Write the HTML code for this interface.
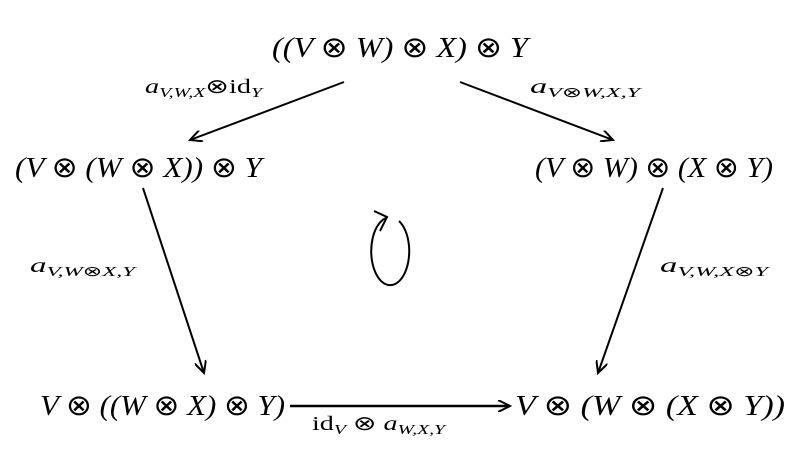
<!DOCTYPE html>
<html><head><meta charset="utf-8"><style>
html,body{margin:0;padding:0;background:#fff;}
svg{display:block;}
text{font-family:"Liberation Serif",serif;fill:#000;}
.n{font-size:29px;font-style:italic;}
.l{font-size:20px;font-style:italic;}
.s{font-size:14px;}
.r{font-style:normal;}
</style></head><body>
<svg width="800" height="460" viewBox="0 0 800 460" xmlns="http://www.w3.org/2000/svg">
<defs>
<marker id="ah" markerWidth="14" markerHeight="12" refX="12" refY="6" orient="auto" markerUnits="userSpaceOnUse">
<path d="M0,0 L12,6 L0,12" fill="none" stroke="#000" stroke-width="2"/>
</marker>
</defs>
<text class="n" x="272" y="57" textLength="256" lengthAdjust="spacingAndGlyphs">((V <tspan class="r">⊗</tspan> W) <tspan class="r">⊗</tspan> X) <tspan class="r">⊗</tspan> Y</text>
<text class="n" x="15" y="177" textLength="247" lengthAdjust="spacingAndGlyphs">(V <tspan class="r">⊗</tspan> (W <tspan class="r">⊗</tspan> X)) <tspan class="r">⊗</tspan> Y</text>
<text class="n" x="535" y="177" textLength="238" lengthAdjust="spacingAndGlyphs">(V <tspan class="r">⊗</tspan> W) <tspan class="r">⊗</tspan> (X <tspan class="r">⊗</tspan> Y)</text>
<text class="n" x="40" y="415" textLength="245" lengthAdjust="spacingAndGlyphs">V <tspan class="r">⊗</tspan> ((W <tspan class="r">⊗</tspan> X) <tspan class="r">⊗</tspan> Y)</text>
<text class="n" x="515" y="415" textLength="270" lengthAdjust="spacingAndGlyphs">V <tspan class="r">⊗</tspan> (W <tspan class="r">⊗</tspan> (X <tspan class="r">⊗</tspan> Y))</text>

<g stroke="#000" stroke-width="2" fill="none">
<line x1="344" y1="82" x2="190" y2="140" marker-end="url(#ah)"/>
<line x1="460" y1="82" x2="613" y2="140" marker-end="url(#ah)"/>
<line x1="143" y1="188" x2="204" y2="373" marker-end="url(#ah)"/>
<line x1="663" y1="188" x2="598" y2="373" marker-end="url(#ah)"/>
<line x1="290" y1="406" x2="510" y2="406" stroke-width="2.5" marker-end="url(#ah)"/>
<path d="M386,218 A19,34 0 1 0 399,221" stroke-width="2"/>
<path d="M374,211 L387,217 L380,231" stroke-width="2"/>
</g>

<text class="l" x="145" y="93" textLength="117" lengthAdjust="spacingAndGlyphs">a<tspan class="s" dy="4">V,W,X</tspan><tspan class="r" dy="-4">⊗id</tspan><tspan class="s" dy="4">Y</tspan></text>
<text class="l" x="530" y="93" textLength="110" lengthAdjust="spacingAndGlyphs">a<tspan class="s" dy="4">V<tspan class="r">⊗</tspan>W,X,Y</tspan></text>
<text class="l" x="30" y="272" textLength="105" lengthAdjust="spacingAndGlyphs">a<tspan class="s" dy="4">V,W<tspan class="r">⊗</tspan>X,Y</tspan></text>
<text class="l" x="660" y="272" textLength="108" lengthAdjust="spacingAndGlyphs">a<tspan class="s" dy="4">V,W,X<tspan class="r">⊗</tspan>Y</tspan></text>
<text class="l" x="312" y="430" textLength="133" lengthAdjust="spacingAndGlyphs"><tspan class="r">id</tspan><tspan class="s" dy="4">V</tspan><tspan class="r" dy="-4"> ⊗ </tspan>a<tspan class="s" dy="4">W,X,Y</tspan></text>
</svg>
</body></html>
